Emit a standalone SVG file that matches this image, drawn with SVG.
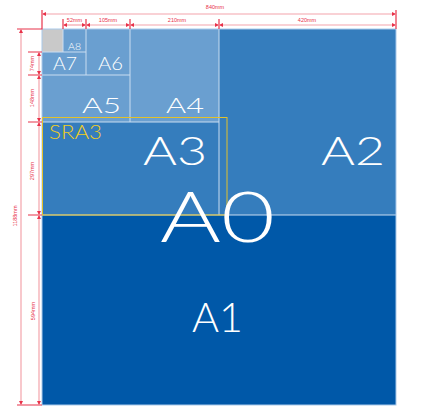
<svg xmlns="http://www.w3.org/2000/svg" width="424" height="417" viewBox="0 0 424 417">
<defs>
<style>
.lt{fill:#6a9fd0}
.md{fill:#357dbd}
.dk{fill:#0058a8}
.sep{fill:none;stroke:#c9ddf1;stroke-width:1}
.lbl{font-family:Lato,"Open Sans","DejaVu Sans",sans-serif;font-weight:300;fill:#ffffff}
.dim{fill:none;stroke:#f4a3ab;stroke-width:1.2}
.tick{fill:none;stroke:#e8324a;stroke-width:1.2}
.dl{font-family:"Liberation Sans",Arial,sans-serif;font-size:5.5px;fill:#e8324a;text-anchor:middle}
</style>
<marker id="ar" viewBox="0 0 6 6" refX="6" refY="3" markerWidth="4" markerHeight="4" orient="auto-start-reverse" markerUnits="userSpaceOnUse">
<path d="M0,0 L6,3 L0,6 z" fill="#e8324a"/>
</marker>
</defs>
<rect width="424" height="417" fill="#ffffff"/>
<g id="A1"><rect class="dk" x="42" y="215" width="354" height="190"/><text class="lbl" x="192" y="332" font-size="42" textLength="51" lengthAdjust="spacingAndGlyphs">A1</text></g>
<g id="A2"><rect class="md" x="219" y="29" width="177" height="186"/><text class="lbl" x="321" y="165" font-size="40" textLength="64" lengthAdjust="spacingAndGlyphs">A2</text></g>
<g id="A3"><rect class="md" x="42" y="122" width="177" height="93"/><text class="lbl" x="143" y="165" font-size="40" textLength="64" lengthAdjust="spacingAndGlyphs">A3</text></g>
<g id="A4"><rect class="lt" x="130" y="29" width="89" height="93"/><text class="lbl" x="166" y="113" font-size="22" textLength="38" lengthAdjust="spacingAndGlyphs">A4</text></g>
<g id="A5"><rect class="lt" x="42" y="75" width="88" height="47"/><text class="lbl" x="82" y="113" font-size="22" textLength="39" lengthAdjust="spacingAndGlyphs">A5</text></g>
<g id="A6"><rect class="lt" x="86" y="29" width="44" height="46"/><text class="lbl" x="98" y="70" font-size="17" textLength="25" lengthAdjust="spacingAndGlyphs">A6</text></g>
<g id="A7"><rect class="lt" x="42" y="52" width="44" height="23"/><text class="lbl" x="53" y="70" font-size="17" textLength="24" lengthAdjust="spacingAndGlyphs">A7</text></g>
<g id="A8"><rect class="lt" x="63" y="29" width="23" height="23"/><text class="lbl" x="68" y="49.5" font-size="9.5" textLength="13" lengthAdjust="spacingAndGlyphs">A8</text></g>
<g id="A9"><rect x="42" y="29" width="21" height="23" fill="#c9c9c9"/></g>
<g id="separators">
<path class="sep" d="M219,29 V215 M42,215 H396 M42,122 H219 M130,29 V122 M42,75 H130 M86,29 V75 M42,52 H86 M63,29 V52"/>
<rect x="42" y="29" width="354" height="376" fill="none" stroke="#a9c9ea" stroke-width="1"/>
</g>
<g id="SRA3"><rect x="42.5" y="117.5" width="184.5" height="97.5" fill="none" stroke="#e3c22a" stroke-width="1"/><text x="49" y="138.5" font-family="Lato,'Open Sans','DejaVu Sans',sans-serif" font-weight="300" font-size="19" fill="#f1cd1e" textLength="53" lengthAdjust="spacingAndGlyphs">SRA3</text></g>
<g id="A0"><text class="lbl" x="160" y="242" font-size="70" textLength="115" lengthAdjust="spacingAndGlyphs">A0</text></g>
<g id="connectors">
<path class="tick" d="M42,10 V29 H17 M17,405 H42 M63,19 V29 M86,19 V29 M130,19 V29 M219,19 V29 M396,10 V29 M28,52 H42 M28,75 H42 M28,122 H42 M28,215 H42"/>
<line class="dim" x1="42" y1="14" x2="396" y2="14" marker-start="url(#ar)" marker-end="url(#ar)"/>
<line class="dim" x1="63" y1="25" x2="86" y2="25" marker-start="url(#ar)" marker-end="url(#ar)"/>
<line class="dim" x1="86" y1="25" x2="130" y2="25" marker-start="url(#ar)" marker-end="url(#ar)"/>
<line class="dim" x1="130" y1="25" x2="219" y2="25" marker-start="url(#ar)" marker-end="url(#ar)"/>
<line class="dim" x1="219" y1="25" x2="396" y2="25" marker-start="url(#ar)" marker-end="url(#ar)"/>
<line class="dim" x1="21" y1="29" x2="21" y2="405" marker-start="url(#ar)" marker-end="url(#ar)"/>
<line class="dim" x1="39" y1="52" x2="39" y2="75" marker-start="url(#ar)" marker-end="url(#ar)"/>
<line class="dim" x1="39" y1="75" x2="39" y2="122" marker-start="url(#ar)" marker-end="url(#ar)"/>
<line class="dim" x1="39" y1="122" x2="39" y2="215" marker-start="url(#ar)" marker-end="url(#ar)"/>
<line class="dim" x1="39" y1="215" x2="39" y2="405" marker-start="url(#ar)" marker-end="url(#ar)"/>
<text class="dl" x="215" y="9">840mm</text>
<text class="dl" x="74.5" y="22">52mm</text>
<text class="dl" x="108" y="22">105mm</text>
<text class="dl" x="177" y="22">210mm</text>
<text class="dl" x="307" y="22">420mm</text>
<text class="dl" transform="translate(34,63.5) rotate(-90)">74mm</text>
<text class="dl" transform="translate(34,98) rotate(-90)">148mm</text>
<text class="dl" transform="translate(34,171) rotate(-90)">297mm</text>
<text class="dl" transform="translate(35,311) rotate(-90)">594mm</text>
<text class="dl" transform="translate(17,216) rotate(-90)">1188mm</text>
</g>
</svg>
